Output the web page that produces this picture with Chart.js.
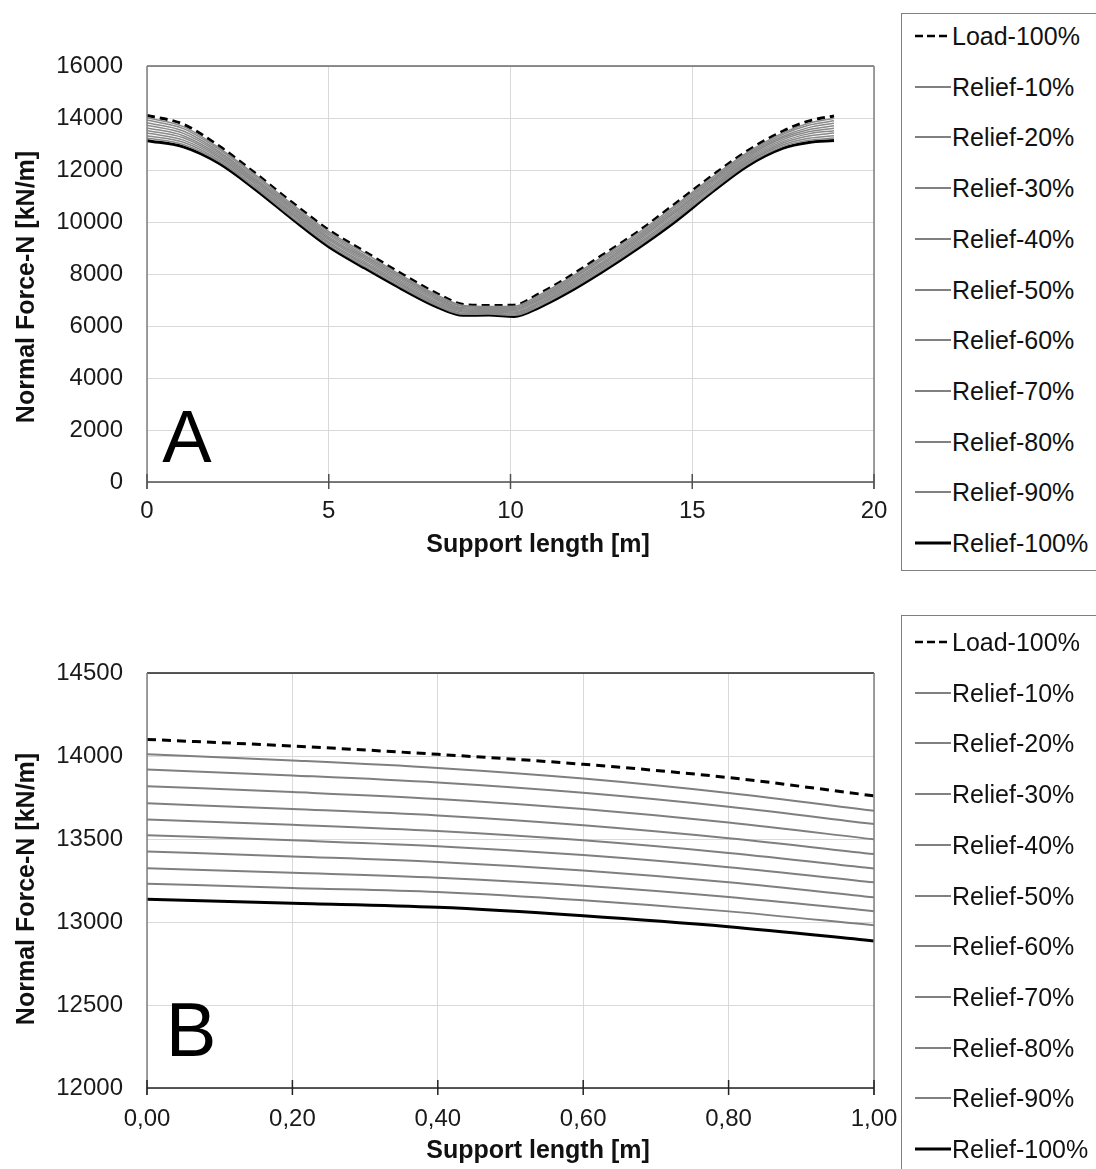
<!DOCTYPE html>
<html>
<head>
<meta charset="utf-8">
<script src="https://cdn.jsdelivr.net/npm/chart.js@4.4.1/dist/chart.umd.min.js"></script>
<style>
  html, body { margin: 0; padding: 0; background: #ffffff; }
  body { width: 1096px; height: 1169px; position: relative; overflow: hidden;
         font-family: "Liberation Sans", Arial, sans-serif; color: #1a1a1a; }
  .cv { position: absolute; left: 0; }
  .ttl { position: absolute; white-space: nowrap; font-weight: bold; font-size: 25px;
         line-height: 30px; transform: translate(-50%, -50%); color: #111; }
  .ttl.rot { transform: translate(-50%, -50%) rotate(-90deg); }
  .big { position: absolute; white-space: nowrap; line-height: 1; transform: translate(-50%, -50%); color: #000; }
  .legbox { position: absolute; left: 901px; width: 220px; border: 1.5px solid #7f7f7f; background: #fff; }
  .row { position: absolute; left: 0; height: 30px; line-height: 30px; font-size: 25px; white-space: nowrap; color: #111; }
  .row svg { position: absolute; left: 915px; top: 0; }
  .row span { position: absolute; left: 952px; top: 0; }
</style>
</head>
<body>
<canvas id="cA" class="cv" style="top:0px" width="930" height="580"></canvas>
<canvas id="cB" class="cv" style="top:600px" width="930" height="569"></canvas>
<div class="legbox" style="top:13px;height:556px"></div>
<div class="legbox" style="top:615px;height:600px"></div>
<div id="legA"></div>
<div id="legB"></div>
<div class="ttl rot" style="left:25px;top:287px">Normal Force-N [kN/m]</div>
<div class="ttl" style="left:538px;top:543px">Support length [m]</div>
<div class="ttl rot" style="left:25px;top:889px">Normal Force-N [kN/m]</div>
<div class="ttl" style="left:538px;top:1149px">Support length [m]</div>
<div class="big" style="left:187px;top:437px;font-size:74px">A</div>
<div class="big" style="left:191px;top:1030px;font-size:76px">B</div>
<script>
// ---------- DATA ----------
const seriesNames = ['Load-100%','Relief-10%','Relief-20%','Relief-30%','Relief-40%','Relief-50%',
                     'Relief-60%','Relief-70%','Relief-80%','Relief-90%','Relief-100%'];

// Chart A: whole support length [m]
const xA = [0,1,2,3,4,5,6,7,8,8.7,9.4,10.1,10.8,11.5,12.5,13.5,14.5,15.5,16.5,17.5,18.2,18.9];
const loadA   = [14100,13760,12900,11850,10740,9690,8850,8010,7230,6830,6790,6800,7250,7800,8700,9620,10670,11730,12720,13500,13880,14080];
const relief10A = [14010,13670,12830,11790,10680,9630,8790,7950,7180,6790,6750,6760,7200,7740,8640,9560,10600,11670,12660,13430,13800,13990];
const relief20A = [13920,13590,12770,11730,10610,9560,8720,7890,7130,6750,6720,6710,7140,7680,8570,9490,10530,11600,12600,13370,13720,13890];
const relief30A = [13820,13500,12700,11660,10550,9500,8660,7840,7080,6700,6680,6670,7090,7630,8510,9430,10460,11540,12550,13300,13630,13800];
const relief40A = [13720,13410,12640,11600,10490,9430,8600,7780,7030,6660,6640,6630,7040,7570,8440,9360,10390,11480,12490,13240,13550,13700];
const relief50A = [13620,13320,12570,11540,10430,9370,8540,7720,6980,6620,6610,6590,6990,7510,8380,9300,10330,11420,12430,13170,13470,13610];
const relief60A = [13520,13240,12500,11480,10360,9310,8470,7660,6920,6580,6570,6540,6930,7450,8320,9240,10260,11350,12370,13100,13390,13510];
const relief70A = [13420,13150,12440,11420,10300,9240,8410,7600,6870,6540,6530,6500,6880,7390,8250,9170,10190,11290,12310,13040,13310,13420];
const relief80A = [13320,13070,12370,11350,10240,9180,8350,7550,6820,6490,6490,6460,6830,7340,8190,9110,10120,11230,12260,12970,13220,13320];
const relief90A = [13230,12980,12310,11290,10170,9110,8280,7490,6770,6450,6460,6410,6770,7280,8120,9040,10050,11160,12200,12910,13140,13230];
const relief100A = [13130,12890,12240,11230,10110,9050,8220,7430,6720,6410,6420,6370,6720,7220,8060,8980,9980,11100,12140,12840,13060,13130];

// Chart B: first metre of support length [m]
const xB = [0,0.2,0.4,0.6,0.8,1.0];
const loadB     = [14100,14060,14010,13950,13870,13760];
const relief10B = [14010,13973,13928,13864,13777,13670];
const relief20B = [13919,13883,13840,13778,13694,13590];
const relief30B = [13818,13783,13741,13680,13599,13498];
const relief40B = [13715,13681,13642,13583,13505,13409];
const relief50B = [13618,13586,13548,13492,13416,13323];
const relief60B = [13523,13492,13457,13403,13330,13239];
const relief70B = [13425,13395,13362,13310,13239,13149];
const relief80B = [13324,13297,13267,13219,13151,13065];
const relief90B = [13231,13205,13181,13131,13064,12980];
const relief100B = [13137,13113,13089,13038,12972,12886];

// Tick labels
const xTickLabelsA = ['0','5','10','15','20'];
const yTickLabelsA = ['0','2000','4000','6000','8000','10000','12000','14000','16000'];
const xTickLabelsB = ['0,00','0,20','0,40','0,60','0,80','1,00'];
const yTickLabelsB = ['12000','12500','13000','13500','14000','14500'];

// ---------- CHARTS ----------
const seriesA = [loadA, relief10A, relief20A, relief30A, relief40A, relief50A, relief60A, relief70A, relief80A, relief90A, relief100A];
const seriesB = [loadB, relief10B, relief20B, relief30B, relief40B, relief50B, relief60B, relief70B, relief80B, relief90B, relief100B];

function styleFor(i, big) {
  if (i === 0) return { borderColor: '#000', borderWidth: 3, borderDash: big ? [8,5] : [9,6] };
  if (i === 10) return { borderColor: '#000', borderWidth: 3, borderDash: [] };
  return { borderColor: big ? '#8a8a8a' : '#7f7f7f', borderWidth: big ? 1.5 : 2, borderDash: [] };
}

function makeDatasets(xs, series, big) {
  const order = [1,2,3,4,5,6,7,8,9,10,0];
  return order.map(i => Object.assign({
    label: seriesNames[i],
    data: xs.map((x, k) => ({ x: x, y: series[i][k] })),
    pointRadius: 0,
    fill: false,
    cubicInterpolationMode: 'monotone'
  }, styleFor(i, big)));
}

const frame = {
  id: 'frame',
  afterDatasetsDraw(chart, args, opts) {
    const a = chart.chartArea, c = chart.ctx;
    c.save();
    c.lineWidth = 1.5;
    c.strokeStyle = opts.top; c.beginPath(); c.moveTo(a.left, a.top); c.lineTo(a.right, a.top); c.stroke();
    c.strokeStyle = opts.side;
    c.beginPath(); c.moveTo(a.right, a.top); c.lineTo(a.right, a.bottom + 7); c.stroke();
    c.beginPath(); c.moveTo(a.left, a.top); c.lineTo(a.left, a.bottom + 7); c.stroke();
    c.strokeStyle = opts.bottom;
    c.beginPath(); c.moveTo(a.left, a.bottom); c.lineTo(a.right, a.bottom); c.stroke();
    const xs = chart.scales.x;
    xs.ticks.forEach(t => {
      const px = xs.getPixelForValue(t.value);
      c.beginPath(); c.moveTo(px, a.bottom - 8); c.lineTo(px, a.bottom + 7); c.stroke();
    });
    c.restore();
  }
};

const font = { family: '"Liberation Sans", Arial, sans-serif', size: 24 };

function makeChart(id, xs, series, big, cfg) {
  const cv = document.getElementById(id);
  const H = cv.height, W = cv.width;
  return new Chart(cv, {
    type: 'line',
    data: { datasets: makeDatasets(xs, series, big) },
    plugins: [frame],
    options: {
      responsive: false,
      animation: false,
      events: [],
      layout: { padding: { top: cfg.top, right: W - 874, left: 0, bottom: 0 } },
      plugins: { legend: { display: false }, tooltip: { enabled: false }, frame: cfg.frame },
      scales: {
        x: {
          type: 'linear', min: cfg.xmin, max: cfg.xmax,
          afterFit: s => { s.height = H - cfg.bottom; },
          afterBuildTicks: s => { s.ticks = cfg.xticks.map(v => ({ value: v })); },
          ticks: { font: font, color: '#1a1a1a', padding: cfg.xpad, maxRotation: 0, autoSkip: false,
                   callback: (v, i) => cfg.xlabels[i] },
          grid: { color: '#d9d9d9', lineWidth: 1, drawTicks: false },
          border: { display: false }
        },
        y: {
          type: 'linear', min: cfg.ymin, max: cfg.ymax,
          afterFit: s => { s.width = 147; },
          afterBuildTicks: s => { s.ticks = cfg.yticks.map(v => ({ value: v })); },
          ticks: { font: font, color: '#1a1a1a', padding: 24, autoSkip: false,
                   callback: (v, i) => cfg.ylabels[i] },
          grid: { color: '#d9d9d9', lineWidth: 1, drawTicks: false },
          border: { display: false }
        }
      }
    }
  });
}

makeChart('cA', xA, seriesA, true, {
  top: 66, bottom: 482, xmin: 0, xmax: 20, ymin: 0, ymax: 16000, xpad: 15,
  xticks: [0,5,10,15,20], xlabels: xTickLabelsA,
  yticks: [0,2000,4000,6000,8000,10000,12000,14000,16000], ylabels: yTickLabelsA,
  frame: { top: '#6a6a6a', side: '#7f7f7f', bottom: '#505050' }
});
makeChart('cB', xB, seriesB, false, {
  top: 73, bottom: 488, xmin: 0, xmax: 1, ymin: 12000, ymax: 14500, xpad: 17,
  xticks: [0,0.2,0.4,0.6,0.8,1], xlabels: xTickLabelsB,
  yticks: [12000,12500,13000,13500,14000,14500], ylabels: yTickLabelsB,
  frame: { top: '#222222', side: '#7f7f7f', bottom: '#222222' }
});

// ---------- HTML LEGENDS ----------
function sample(i) {
  if (i === 0) return '<svg width="36" height="30"><line x1="0" y1="15" x2="35" y2="15" stroke="#000" stroke-width="2.5" stroke-dasharray="8,4"/></svg>';
  if (i === 10) return '<svg width="36" height="30"><line x1="0" y1="15" x2="36" y2="15" stroke="#000" stroke-width="3"/></svg>';
  return '<svg width="36" height="30"><line x1="0" y1="15" x2="36" y2="15" stroke="#808080" stroke-width="2"/></svg>';
}
function buildLegend(id, firstCenter, step) {
  const el = document.getElementById(id);
  el.innerHTML = seriesNames.map((n, i) =>
    '<div class="row" style="top:' + (firstCenter + i * step - 15) + 'px">' + sample(i) + '<span>' + n + '</span></div>'
  ).join('');
}
buildLegend('legA', 36, 50.7);
buildLegend('legB', 642, 50.7);
</script>
</body>
</html>
